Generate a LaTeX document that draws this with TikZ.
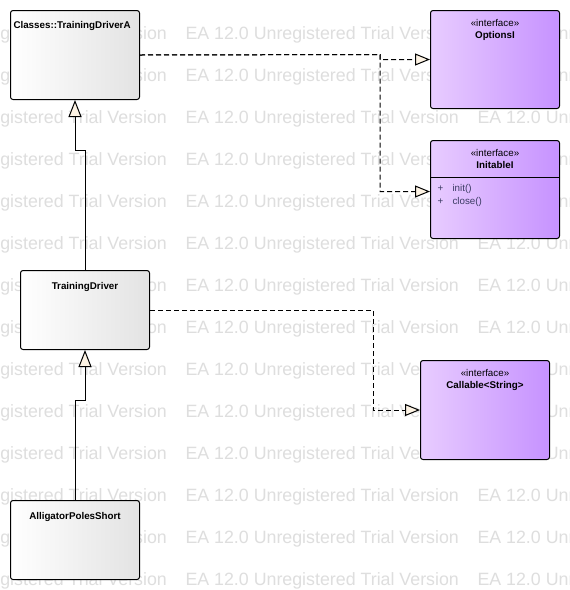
\documentclass[tikz,border=0pt]{standalone}
\usepackage{fontspec}
\setmainfont{Liberation Sans}
\usetikzlibrary{arrows.meta,positioning,calc}
\definecolor{wmgray}{RGB}{222,222,222}
\definecolor{ifleft}{RGB}{232,204,255}
\definecolor{ifright}{RGB}{198,146,255}
\definecolor{tipfill}{RGB}{253,243,228}
\definecolor{opcolor}{RGB}{60,60,100}

\begin{document}
\begin{tikzpicture}[x=1pt,y=-1pt,line width=1pt,
	watermark/.style={text=wmgray,font=\fontsize{17.8}{20}\selectfont,anchor=base west,inner sep=0pt},
	box/.style={draw,rounded corners=2.5pt,anchor=north west,inner sep=0pt,minimum width=129pt},
	classbox/.style={box,left color=white,right color=black!11},
	ifacebox/.style={box,left color=ifleft,right color=ifright},
	title/.style={font=\fontsize{9.8}{12}\selectfont\bfseries,inner sep=0pt},
	stereo/.style={font=\fontsize{9.8}{12}\selectfont,inner sep=0pt},
	ops/.style={font=\fontsize{9.8}{12}\selectfont,text=opcolor,inner sep=0pt},
	gen/.style={-{Triangle[length=17pt,width=13pt,fill=tipfill]}},
	real/.style={dash pattern=on 5pt off 3pt,-{Triangle[length=15pt,width=12pt,fill=tipfill]}}]
	\useasboundingbox[fill=white] (0,0) rectangle (570,590);
	\begin{scope}
		\clip (0,0) rectangle (570,590);
		\foreach \row in {0,...,13}
			\foreach \col in {-107,185,477}
				\node[watermark] (wm\row\col) at (\col,39+42*\row) {EA 12.0 Unregistered Trial Version};
	\end{scope}

	\node[classbox,minimum height=89pt] (tda) at (10,10) {};
	\node[title,below right=18.5pt and 3pt of tda.north west,anchor=base west] (tdaT) {Classes::TrainingDriverA};
	\node[classbox,minimum height=79pt] (td) at (20,270) {};
	\node[title,below=19pt of td.north,anchor=base] (tdT) {TrainingDriver};
	\node[classbox,minimum height=79pt] (aps) at (10,500) {};
	\node[title,below=19pt of aps.north,anchor=base] (apsT) {AlligatorPolesShort};

	\node[ifacebox,minimum height=98pt] (opt) at (430,10) {};
	\node[stereo,below=16pt of opt.north,anchor=base] (optS) {«interface»};
	\node[title,below=28.5pt of opt.north,anchor=base] (optT) {OptionsI};
	\node[ifacebox,minimum height=98pt] (init) at (430,140) {};
	\node[stereo,below=16pt of init.north,anchor=base] (initS) {«interface»};
	\node[title,below=28.5pt of init.north,anchor=base] (initT) {InitableI};
	\draw[line width=.8pt] ($(init.north west)+(0,37)$) coordinate (sep) -- (sep -| init.east);
	\node[ops,below right=14pt and 7pt of sep,anchor=base west] (op1) {+};
	\node[ops,below right=14pt and 22pt of sep,anchor=base west] (op1n) {init()};
	\node[ops,below right=27.5pt and 7pt of sep,anchor=base west] (op2) {+};
	\node[ops,below right=27.5pt and 22pt of sep,anchor=base west] (op2n) {close()};
	\node[ifacebox,minimum height=99pt] (call) at (420,360) {};
	\node[stereo,below=16pt of call.north,anchor=base] (callS) {«interface»};
	\node[title,below=28.5pt of call.north,anchor=base] (callT) {Callable<String>};

	\coordinate (bend) at (380,54.5);
	\draw[gen] (td.north) -- ++(0,-120) -| (tda.south);
	\draw[gen] (aps.north) -- ++(0,-100) -| (td.south);
	\draw[real] (tda.east) -- (bend) |- (opt.west);
	\draw[real] (tda.east) -- (bend) |- ($(init.west)+(0,2)$);
	\draw[real] (td.east) -- ++(223,0) |- (call.west);
\end{tikzpicture}
\end{document}
